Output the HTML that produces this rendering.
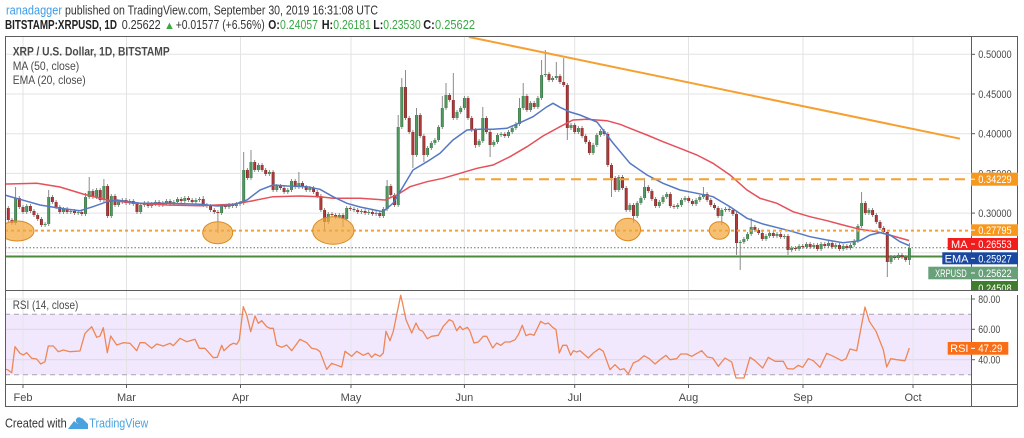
<!DOCTYPE html>
<html>
<head>
<meta charset="utf-8">
<style>
html,body{margin:0;padding:0;background:#fff;}
body{width:1024px;height:438px;overflow:hidden;}
svg{display:block;}
text{font-family:"Liberation Sans",sans-serif;}
</style>
</head>
<body>
<svg width="1024" height="438" viewBox="0 0 1024 438" xmlns="http://www.w3.org/2000/svg" xmlns:xlink="http://www.w3.org/1999/xlink">
<defs>
  <clipPath id="pp"><rect x="5" y="36" width="966" height="253"/></clipPath>
  <clipPath id="rp"><rect x="5" y="291" width="966" height="93"/></clipPath>
  <path id="bu" d="M15.6 198V223M26.7 206V212M45.1 224V225M48.7 197V224M63.5 209V212M70.8 211V212M78.2 212V213M85.5 197V214M89.2 191V197M96.6 190V197M103.9 186V200M111.3 196V216M118.6 202V205M122.3 200V202M129.7 201V203M140.7 205V212M144.4 203V205M151.7 204V206M155.4 202V204M162.8 203V205M166.4 201V203M173.8 202V204M177.5 199V202M184.8 198V201M195.9 200V202M199.5 199V200M221.6 206V213M229 205V207M236.3 204V206M240 203V204M243.7 170V203M251 162V178M258.4 165V170M269.4 172V174M276.8 186V190M287.8 190V192M291.5 181V190M298.9 183V187M309.9 188V190M328.3 214V222M339.3 215V217M346.7 208V219M361.4 211V212M368.7 212V213M376.1 213V214M383.4 209V216M387.1 186V209M398.2 127V205M401.8 87V127M416.5 115V155M427.6 148V155M431.3 143V148M434.9 140V143M438.6 127V140M442.3 108V127M446 95V108M457 112V118M460.7 108V112M464.4 98V108M479.1 141V145M482.8 118V141M493.8 142V145M497.5 135V142M501.1 134V135M508.5 132V136M512.2 128V132M515.9 124V128M519.5 108V124M523.2 96V108M530.6 103V110M537.9 98V107M541.6 75V98M545.3 74V75M552.6 78V80M556.3 76V78M571 125V128M578.4 128V132M593.1 145V153M596.8 135V145M600.4 131V135M618.8 177V190M629.9 205V210M637.2 203V216M640.9 198V203M644.6 187V198M659.3 202V206M663 197V202M666.7 194V197M677.7 205V207M681.4 200V205M685 198V200M696.1 200V204M699.8 197V200M703.4 194V197M721.8 210V216M725.5 209V210M740.2 242V243M743.9 239V242M747.6 234V239M751.2 227V234M766 236V239M769.6 233V236M777 234V236M784.3 236V237M791.7 248V250M799.1 246V249M806.4 244V247M813.8 245V247M821.1 244V249M828.5 243V246M835.8 245V247M843.2 246V249M850.6 245V248M854.2 241V245M857.9 226V241M861.6 203V226M868.9 210V213M891 257V262M898.4 255V258M909.4 248V260"/>
  <path id="bd" d="M8.3 208V220M12 220V223M19.3 198V207M23 207V212M30.4 206V211M34 211V215M37.7 215V219M41.4 219V225M52.4 197V202M56.1 202V207M59.8 207V212M67.1 209V212M74.5 211V213M81.8 212V214M92.9 191V197M100.2 190V200M107.6 186V216M115 196V205M126 200V203M133.3 201V204M137 204V212M148.1 203V206M159.1 202V205M170.1 201V204M181.2 199V201M188.5 198V200M192.2 200V202M203.2 199V205M206.9 205V206M210.6 206V210M214.3 210V212M217.9 212V213M225.3 206V207M232.6 205V206M247.4 170V178M254.7 162V170M262.1 165V170M265.7 170V174M273.1 172V190M280.5 186V188M284.1 188V192M295.2 181V187M302.5 183V187M306.2 187V190M313.6 188V192M317.2 192V196M320.9 196V210M324.6 210V222M332 214V215M335.6 215V217M343 215V219M350.3 208V209M354 209V210M357.7 210V212M365.1 211V213M372.4 212V214M379.8 213V216M390.8 186V195M394.5 195V205M405.5 87V118M409.2 118V132M412.9 132V155M420.2 115V136M423.9 136V155M449.6 95V100M453.3 100V118M468 98V118M471.7 118V130M475.4 130V145M486.4 118V132M490.1 132V145M504.8 134V136M526.9 96V110M534.2 103V107M549 74V80M560 76V82M563.7 82V85M567.3 85V128M574.7 125V132M582.1 128V136M585.7 136V142M589.4 142V153M604.1 131V134M607.8 134V165M611.5 165V178M615.2 178V190M622.5 177V188M626.2 188V210M633.5 205V216M648.3 187V191M651.9 191V199M655.6 199V206M670.3 194V206M674 206V207M688.7 198V201M692.4 201V204M707.1 194V200M710.8 200V205M714.5 205V208M718.1 208V216M729.2 209V210M732.9 210V214M736.5 214V243M754.9 227V230M758.6 230V233M762.3 233V239M773.3 233V236M780.7 234V237M788 236V250M795.4 248V249M802.7 246V247M810.1 244V247M817.4 245V249M824.8 244V246M832.2 243V247M839.5 245V249M846.9 246V248M865.3 203V213M872.6 210V215M876.3 215V222M880 222V228M883.7 228V232M887.3 232V262M894.7 257V258M902 255V257M905.7 257V260"/>
</defs>

<!-- header -->
<text x="6" y="14.5" font-size="12.5" fill="#3d9be9" textLength="56" lengthAdjust="spacingAndGlyphs">ranadagger</text>
<text x="65" y="14.5" font-size="12.5" fill="#333" textLength="313" lengthAdjust="spacingAndGlyphs">published on TradingView.com, September 30, 2019 16:31:08 UTC</text>

<text x="5" y="29" font-size="12.5" font-weight="bold" fill="#222" textLength="112" lengthAdjust="spacingAndGlyphs">BITSTAMP:XRPUSD, 1D</text>
<text x="121.7" y="29" font-size="12.5" fill="#333" textLength="39" lengthAdjust="spacingAndGlyphs">0.25622</text>
<text x="164" y="29" font-size="11" fill="#3aa845">▲</text>
<text x="175.7" y="29" font-size="12.5" fill="#333" textLength="89" lengthAdjust="spacingAndGlyphs">+0.01577 (+6.56%)</text>
<text x="268.3" y="29" font-size="12.5" font-weight="bold" fill="#222" textLength="11.5" lengthAdjust="spacingAndGlyphs">O:</text>
<text x="280" y="29" font-size="12.5" fill="#3aa845" textLength="38" lengthAdjust="spacingAndGlyphs">0.24057</text>
<text x="321.7" y="29" font-size="12.5" font-weight="bold" fill="#222" textLength="11.5" lengthAdjust="spacingAndGlyphs">H:</text>
<text x="333.3" y="29" font-size="12.5" fill="#3aa845" textLength="37.5" lengthAdjust="spacingAndGlyphs">0.26181</text>
<text x="373.3" y="29" font-size="12.5" font-weight="bold" fill="#222" textLength="10" lengthAdjust="spacingAndGlyphs">L:</text>
<text x="383.3" y="29" font-size="12.5" fill="#3aa845" textLength="37.5" lengthAdjust="spacingAndGlyphs">0.23530</text>
<text x="423.3" y="29" font-size="12.5" font-weight="bold" fill="#222" textLength="11.5" lengthAdjust="spacingAndGlyphs">C:</text>
<text x="435" y="29" font-size="12.5" fill="#3aa845" textLength="40" lengthAdjust="spacingAndGlyphs">0.25622</text>

<!-- RSI band -->
<rect x="5" y="314.2" width="966" height="60.6" fill="#f2e8fd"/>

<!-- grid -->
<g stroke="#e3e3e6" stroke-width="1">
  <line x1="5" x2="971" y1="54.3" y2="54.3"/>
  <line x1="5" x2="971" y1="94" y2="94"/>
  <line x1="5" x2="971" y1="133.7" y2="133.7"/>
  <line x1="5" x2="971" y1="173.4" y2="173.4"/>
  <line x1="5" x2="971" y1="213.1" y2="213.1"/>
  <line x1="5" x2="971" y1="252.8" y2="252.8"/>
  <line x1="5" x2="971" y1="299" y2="299"/>
  <line x1="5" x2="971" y1="329.3" y2="329.3" stroke="#ddd6e6"/>
  <line x1="5" x2="971" y1="359.7" y2="359.7" stroke="#ddd6e6"/>
  <line x1="23" x2="23" y1="36" y2="384"/>
  <line x1="126.5" x2="126.5" y1="36" y2="384"/>
  <line x1="240.5" x2="240.5" y1="36" y2="384"/>
  <line x1="351" x2="351" y1="36" y2="384"/>
  <line x1="464.4" x2="464.4" y1="36" y2="384"/>
  <line x1="574.7" x2="574.7" y1="36" y2="384"/>
  <line x1="688.5" x2="688.5" y1="36" y2="384"/>
  <line x1="803" x2="803" y1="36" y2="384"/>
  <line x1="913" x2="913" y1="36" y2="384"/>
</g>
<g stroke="#a9a3b0" stroke-width="1" stroke-dasharray="5 4">
  <line x1="5" x2="971" y1="314.2" y2="314.2"/>
  <line x1="5" x2="971" y1="374.8" y2="374.8"/>
</g>

<!-- price pane drawings -->
<g clip-path="url(#pp)">
  <line x1="5" x2="971" y1="256.5" y2="256.5" stroke="#4b8b3b" stroke-width="2"/>
  <line x1="5" x2="971" y1="247.7" y2="247.7" stroke="#5f7f66" stroke-width="1" stroke-dasharray="1.5 2"/>
  <path fill="none" stroke="#7f7f7f" stroke-width="0.9" d="M8.3 206V222M12 218V225M15.6 187V225M19.3 196V209M23 205V214M26.7 204V214M30.4 204V213M34 209V217M37.7 213V221M41.4 217V227M45.1 222V227M48.7 190V226M52.4 195V204M56.1 200V209M59.8 205V214M63.5 207V214M67.1 207V214M70.8 209V214M74.5 209V215M78.2 210V215M81.8 210V216M85.5 193V216M89.2 177V199M92.9 189V199M96.6 188V199M100.2 188V202M103.9 179V202M107.6 184V218M111.3 194V218M115 194V207M118.6 200V207M122.3 198V204M126 198V205M129.7 199V205M133.3 199V206M137 202V214M140.7 203V214M144.4 201V207M148.1 201V208M151.7 202V208M155.4 200V206M159.1 200V207M162.8 201V207M166.4 199V205M170.1 199V206M173.8 200V206M177.5 197V204M181.2 197V203M184.8 196V203M188.5 196V202M192.2 198V204M195.9 198V204M199.5 197V202M203.2 196V207M206.9 203V208M210.6 204V212M214.3 208V214M217.9 210V233M221.6 204V215M225.3 204V209M229 203V209M232.6 203V208M236.3 202V208M240 201V206M243.7 152V205M247.4 168V180M251 150V180M254.7 160V172M258.4 163V172M262.1 163V172M265.7 168V176M269.4 170V176M273.1 170V192M276.8 184V192M280.5 184V190M284.1 186V194M287.8 188V194M291.5 179V192M295.2 179V189M298.9 172V189M302.5 181V189M306.2 185V192M309.9 186V192M313.6 186V194M317.2 190V198M320.9 194V212M324.6 208V230M328.3 212V224M332 212V217M335.6 213V219M339.3 213V219M343 213V227M346.7 206V221M350.3 206V211M354 207V212M357.7 208V214M361.4 209V214M365.1 209V215M368.7 210V215M372.4 210V216M376.1 211V216M379.8 211V218M383.4 207V218M387.1 180V211M390.8 184V197M394.5 193V207M398.2 115V207M401.8 78V129M405.5 70V120M409.2 116V134M412.9 130V168M416.5 108V157M420.2 113V138M423.9 134V162M427.6 146V157M431.3 141V150M434.9 138V145M438.6 125V142M442.3 96V129M446 83V110M449.6 93V102M453.3 73V120M457 110V120M460.7 106V114M464.4 96V110M468 96V120M471.7 116V132M475.4 128V148M479.1 139V147M482.8 107V143M486.4 116V134M490.1 130V157M493.8 140V147M497.5 133V144M501.1 132V137M504.8 132V138M508.5 130V138M512.2 126V134M515.9 122V130M519.5 98V126M523.2 83V110M526.9 94V112M530.6 101V112M534.2 101V109M537.9 96V109M541.6 60V100M545.3 50V77M549 72V82M552.6 76V82M556.3 62V80M560 74V84M563.7 58V87M567.3 83V140M571 123V130M574.7 123V134M578.4 126V134M582.1 126V138M585.7 134V144M589.4 140V155M593.1 143V155M596.8 133V147M600.4 129V137M604.1 129V136M607.8 132V167M611.5 163V197M615.2 176V192M618.8 175V192M622.5 175V190M626.2 186V212M629.9 203V212M633.5 203V223M637.2 201V218M640.9 196V205M644.6 178V200M648.3 185V193M651.9 189V201M655.6 197V208M659.3 200V208M663 195V204M666.7 192V199M670.3 192V208M674 204V209M677.7 203V209M681.4 198V207M685 196V202M688.7 196V203M692.4 199V206M696.1 198V206M699.8 195V202M703.4 187V199M707.1 192V202M710.8 198V207M714.5 203V210M718.1 206V218M721.8 208V225M725.5 207V212M729.2 207V212M732.9 208V216M736.5 212V255M740.2 240V270M743.9 237V244M747.6 232V241M751.2 218V236M754.9 225V232M758.6 228V235M762.3 231V241M766 234V241M769.6 231V238M773.3 231V238M777 232V238M780.7 232V239M784.3 234V239M788 234V255M791.7 246V252M795.4 246V251M799.1 244V251M802.7 244V249M806.4 242V249M810.1 242V249M813.8 243V249M817.4 243V251M821.1 242V251M824.8 242V248M828.5 241V248M832.2 241V249M835.8 243V249M839.5 243V251M843.2 244V251M846.9 244V250M850.6 243V250M854.2 239V247M857.9 224V243M861.6 192V228M865.3 201V215M868.9 208V215M872.6 208V217M876.3 213V224M880 220V230M883.7 226V234M887.3 230V277M891 255V264M894.7 255V260M898.4 253V260M902 253V259M905.7 255V262M909.4 243V265"/>
  <use href="#bu" xlink:href="#bu" fill="none" stroke="#2d6638" stroke-width="2.9"/>
  <use href="#bu" xlink:href="#bu" fill="none" stroke="#4f9a61" stroke-width="1.9"/>
  <use href="#bd" xlink:href="#bd" fill="none" stroke="#6e1e1e" stroke-width="2.9"/>
  <use href="#bd" xlink:href="#bd" fill="none" stroke="#ae3a3a" stroke-width="1.9"/>
  <polyline fill="none" stroke="#e5505a" stroke-width="1.5" points="5,184 8,184 37,183.3 60,187 83,194 107,200 133,203 167,205 200,205.7 233,204.3 253,200.7 273,196.7 300,196 320,196.7 333,198.3 360,198.3 385,200 397,195 410,186.7 427,181.7 443,178.3 460,173.3 477,168.3 493,165 510,156.7 527,146.7 543,136 560,126.7 573,120 587,119.3 607,120.7 620,124.3 630,128.3 647,135 663,141.7 680,148.3 697,155 713,163.3 730,175 747,190 760,198.3 777,203.3 793,211.7 810,216.7 827,220.7 843,225 860,229.3 877,231.7 893,236 909,240.5"/>
  <polyline fill="none" stroke="#5578c4" stroke-width="1.5" points="5,195 8,196 20,199.3 40,205 60,208.3 80,210.7 93,206.7 107,201.7 117,200 140,203.3 167,203.3 200,204.3 217,206 233,205 247,200 260,190 273,185 287,186 307,186.7 320,189.3 333,196.7 347,203.3 360,207 383,211.7 393,203.3 403,186.7 413,170 427,161.7 440,153.3 453,140 467,130 480,129.3 493,129.3 507,128.3 520,122.7 533,116.7 547,106.7 553,103.3 560,107.3 570,112 580,115 597,122 613,143 630,163.3 647,175 663,183.3 680,190 697,193.3 713,196.7 730,206.7 747,218.3 763,224 780,228.3 793,231.7 810,236.7 827,240 843,242.7 860,240.7 870,235 880,232.7 890,235 900,241.7 909,245.5"/>
  <line x1="5" x2="971" y1="230.6" y2="230.6" stroke="#f5a030" stroke-width="2" stroke-dasharray="3 3"/>
  <line x1="459" x2="971" y1="179.2" y2="179.2" stroke="#f5a030" stroke-width="2" stroke-dasharray="10 6"/>
  <g fill="#f4a63c" fill-opacity="0.72" stroke="#d98a22" stroke-width="1">
    <ellipse cx="17" cy="231" rx="17" ry="10"/>
    <ellipse cx="217.7" cy="232.7" rx="15" ry="11"/>
    <ellipse cx="333.3" cy="230.5" rx="20.7" ry="13.8"/>
    <ellipse cx="627.8" cy="229.5" rx="12.8" ry="11.2"/>
    <ellipse cx="719.3" cy="230.5" rx="10" ry="8.8"/>
  </g>
  <line x1="469" y1="37" x2="960" y2="138.7" stroke="#f5a030" stroke-width="2"/>
</g>

<!-- legend -->
<text x="12.7" y="55.5" font-size="12" font-weight="bold" fill="#4a4a4a" textLength="157" lengthAdjust="spacingAndGlyphs">XRP / U.S. Dollar, 1D, BITSTAMP</text>
<text x="12.7" y="69.8" font-size="12" fill="#4a4a4a" textLength="66.6" lengthAdjust="spacingAndGlyphs">MA (50, close)</text>
<text x="12.7" y="84" font-size="12" fill="#4a4a4a" textLength="73" lengthAdjust="spacingAndGlyphs">EMA (20, close)</text>

<!-- RSI -->
<g clip-path="url(#rp)">
<polyline fill="none" stroke="#ee8656" stroke-width="1.3" stroke-linejoin="round" points="5,369 8,370 11.7,372.7 15,346.7 20,353.3 23.3,355 26.7,352.7 31.7,358.3 36.7,359 40.7,364 45,361.7 48.3,346 53.3,346 58.3,351.7 63.3,350 70,351.7 80,351 85,333.3 91.7,326.7 96.7,337.3 100,336 103.3,327.7 107.3,352.7 110.7,336 116.7,345 123.3,342.7 130,343.3 136.7,350.7 140,342.7 145,342.7 151.7,348.3 156.7,344 163.3,346 170,343.3 173.3,345.7 180,338.3 186.7,341.7 195,339.3 199.3,348.3 205,348.3 213.3,357.7 217.3,357.3 221.7,345.3 224,350.7 230,345 233.3,343.3 236.7,344.3 239.3,340 243.3,306.7 246.7,315 250.7,331.7 255,316 258.3,323.3 261.7,320.7 266.7,326.7 270,328.3 273.3,328.3 276.7,345 281.7,347.3 286.7,345 291.7,350.7 300,339.3 306.7,342.7 311.7,348.3 316.7,349.3 320,351.7 326.7,369.3 331.7,363.3 341.7,367 345,351.3 351.7,356.3 356.7,351.3 363.3,355.3 368.3,353 371.7,357.3 375,354 380,356.3 383.3,353 386,331.3 390,340.7 393.3,331.3 396.7,314.7 400.7,295.3 402.7,304 406,319.7 411.7,333 416,323 419.3,329.7 422.7,331.3 427.3,338.7 431.7,336.3 438.3,335.3 443.3,326.3 449.3,319.7 452.7,321.3 456.7,330.7 460,326.3 462.7,329.7 467.3,327.3 470,331.3 474,343 478.3,342 483.3,336.3 486.7,336.3 492.7,348 496.7,343 500.7,345.3 505,342 510,342 515,339.7 518.3,334.7 522.3,325.3 526,335.7 530,334 534,335.3 540.7,321.3 545,324 548.3,323 552.7,327.3 556,329.7 559.3,353 562.7,345.3 566.7,345.3 570.7,355.3 573.3,350.7 576.7,352 580,350.7 588.3,358 593.3,353 599.3,348.7 603.3,351.3 610,369.7 615,364.7 620,369.7 624,368.7 628.3,374 633.3,363 638.3,360.7 644,355.7 649.3,358.7 655,364 660,359.7 666,355.3 670,359.7 676.7,358.7 680.7,354 686.7,354 691.7,356.3 701.7,350.7 707.3,357 712.7,358 718.3,366.3 725,358 731.7,362 736,378 744,378 750,357.3 755,360.7 762.7,368 768.3,357.3 775,361.3 783.3,361.3 787.3,368.7 793.3,369 798.3,365.3 802.7,367.3 808.3,358.7 813.3,360.7 820,367.3 826.7,353.3 833.3,356.3 841.7,360.7 846,358.7 850,349 856.7,350.7 865,307 869.3,321.3 876,331.3 883.3,349.7 886.7,367 890.7,358.7 896.7,359.7 905,360.7 909.3,348"/>
</g>
<text x="12.7" y="309" font-size="12" fill="#4a4a4a" textLength="65.6" lengthAdjust="spacingAndGlyphs">RSI (14, close)</text>

<!-- frame -->
<g stroke="#5c5c5c" stroke-width="1" fill="none">
  <rect x="5.5" y="36.5" width="1012" height="370"/>
  <line x1="971.5" x2="971.5" y1="36" y2="407"/>
  <line x1="5" x2="1018" y1="384.5" y2="384.5"/>
</g>

<!-- axis ticks -->
<g stroke="#5c5c5c" stroke-width="1">
  <line x1="971" x2="975" y1="54.3" y2="54.3"/>
  <line x1="971" x2="975" y1="94" y2="94"/>
  <line x1="971" x2="975" y1="133.7" y2="133.7"/>
  <line x1="971" x2="975" y1="173.4" y2="173.4"/>
  <line x1="971" x2="975" y1="213.1" y2="213.1"/>
  <line x1="971" x2="975" y1="299" y2="299"/>
  <line x1="971" x2="975" y1="329.3" y2="329.3"/>
  <line x1="971" x2="975" y1="359.7" y2="359.7"/>
  <line x1="23" x2="23" y1="384" y2="388"/>
  <line x1="126.5" x2="126.5" y1="384" y2="388"/>
  <line x1="240.5" x2="240.5" y1="384" y2="388"/>
  <line x1="351" x2="351" y1="384" y2="388"/>
  <line x1="464.4" x2="464.4" y1="384" y2="388"/>
  <line x1="574.7" x2="574.7" y1="384" y2="388"/>
  <line x1="688.5" x2="688.5" y1="384" y2="388"/>
  <line x1="803" x2="803" y1="384" y2="388"/>
  <line x1="913" x2="913" y1="384" y2="388"/>
</g>
<g font-size="11" fill="#4a4a4a">
  <text x="978.3" y="58.2" textLength="33.4" lengthAdjust="spacingAndGlyphs">0.50000</text>
  <text x="978.3" y="97.9" textLength="33.4" lengthAdjust="spacingAndGlyphs">0.45000</text>
  <text x="978.3" y="137.6" textLength="33.4" lengthAdjust="spacingAndGlyphs">0.40000</text>
  <text x="978.3" y="177.3" textLength="33.4" lengthAdjust="spacingAndGlyphs">0.35000</text>
  <text x="978.3" y="217" textLength="33.4" lengthAdjust="spacingAndGlyphs">0.30000</text>
  <text x="978.3" y="303" textLength="22" lengthAdjust="spacingAndGlyphs">80.00</text>
  <text x="978.3" y="333.2" textLength="22" lengthAdjust="spacingAndGlyphs">60.00</text>
  <text x="978.3" y="363.6" textLength="22" lengthAdjust="spacingAndGlyphs">40.00</text>
</g>
<g font-size="11" fill="#4a4a4a" text-anchor="middle">
  <text x="23" y="401">Feb</text>
  <text x="126.5" y="401">Mar</text>
  <text x="240.5" y="401">Apr</text>
  <text x="351" y="401">May</text>
  <text x="464.4" y="401">Jun</text>
  <text x="574.7" y="401">Jul</text>
  <text x="688.5" y="401">Aug</text>
  <text x="803" y="401">Sep</text>
  <text x="913" y="401">Oct</text>
</g>

<!-- price axis label boxes -->
<rect x="971" y="172.7" width="47" height="13" fill="#f7981d"/>
<text x="978.3" y="183.2" font-size="11" fill="#fff" textLength="33.4" lengthAdjust="spacingAndGlyphs">0.34229</text>
<rect x="971" y="224.3" width="47" height="11.6" fill="#f7981d"/>
<text x="978.3" y="234" font-size="11" fill="#fff" textLength="33.4" lengthAdjust="spacingAndGlyphs">0.27795</text>

<rect x="947.7" y="238" width="70.3" height="12" fill="#f21c1c"/>
<text x="959.3" y="248" font-size="11" fill="#fff" text-anchor="middle">MA</text>
<text x="978.3" y="248" font-size="11" fill="#fff" textLength="33.4" lengthAdjust="spacingAndGlyphs">0.26553</text>

<rect x="942.3" y="252.3" width="75.7" height="12" fill="#1a48a0"/>
<text x="956.6" y="262.3" font-size="11" fill="#fff" text-anchor="middle">EMA</text>
<text x="978.3" y="262.3" font-size="11" fill="#fff" textLength="33.4" lengthAdjust="spacingAndGlyphs">0.25927</text>

<rect x="928.3" y="266.7" width="89.7" height="12.6" fill="#68a07a"/>
<text x="935" y="276.9" font-size="11" fill="#fff" textLength="31.7" lengthAdjust="spacingAndGlyphs">XRPUSD</text>
<text x="978.3" y="276.9" font-size="11" fill="#fff" textLength="33.4" lengthAdjust="spacingAndGlyphs">0.25622</text>

<rect x="971" y="281" width="47" height="9" fill="#3f7d2c"/>
<text x="978.3" y="292" font-size="11" fill="#fff" textLength="33.4" lengthAdjust="spacingAndGlyphs">0.24508</text>
<rect x="971" y="291" width="47" height="4" fill="#fff"/>
<line x1="5" x2="1018" y1="290.5" y2="290.5" stroke="#5c5c5c" stroke-width="1"/>

<g stroke="#fff" stroke-width="1">
  <line x1="971" x2="975" y1="179.2" y2="179.2"/>
  <line x1="971" x2="975" y1="230.1" y2="230.1"/>
  <line x1="971" x2="975" y1="244" y2="244"/>
  <line x1="971" x2="975" y1="258.3" y2="258.3"/>
  <line x1="971" x2="975" y1="273" y2="273"/>
</g>

<rect x="947.7" y="342" width="60.6" height="12.7" fill="#f96d16"/>
<text x="959.3" y="352.2" font-size="11" fill="#fff" text-anchor="middle">RSI</text>
<text x="978.3" y="352.2" font-size="11" fill="#fff" textLength="24" lengthAdjust="spacingAndGlyphs">47.29</text>
<line x1="971" x2="975" y1="348.3" y2="348.3" stroke="#fff"/>

<!-- footer -->
<text x="5" y="427.5" font-size="12.5" fill="#333" textLength="61.7" lengthAdjust="spacingAndGlyphs">Created with</text>
<g fill="#4aa3df">
  <path d="M68 429 L74 421 L78 424 L82 418 L88 424 L88 429 Z"/>
  <circle cx="79" cy="420.5" r="3.2"/>
</g>
<text x="89.3" y="427.5" font-size="12.5" fill="#4aa3df" textLength="59" lengthAdjust="spacingAndGlyphs">TradingView</text>
</svg>
</body>
</html>
